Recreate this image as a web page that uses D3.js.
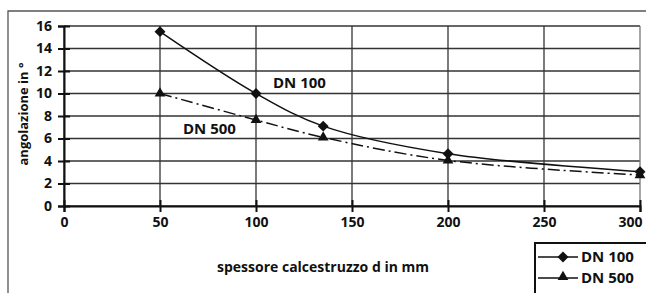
<!DOCTYPE html>
<html>
<head>
<meta charset="utf-8">
<script src="https://cdn.jsdelivr.net/npm/d3@7"></script>
<style>
  body { margin: 0; background: #fff; }
  text { font-family: "Open Sans", sans-serif; font-weight: 700; fill: #111; }
</style>
</head>
<body>
<svg id="chart" width="646" height="293"></svg>
<script>
let thickness = [50, 100, 135, 200, 300];
let dn100 = [15.5, 10, 7.1, 4.65, 3.05];
let dn500 = [10, 7.65, 6.1, 4.05, 2.75];
let xTicks = [0, 50, 100, 150, 200, 250, 300];
let yTicks = [0, 2, 4, 6, 8, 10, 12, 14, 16];
let seriesNames = ["DN 100", "DN 500"];

let svg = d3.select("#chart");
let plot = {"left": 64, "right": 640, "top": 26, "bottom": 206};

let xScale = d3.scaleLinear().domain([0, 300]).range([plot.left, plot.right]);
let yScale = d3.scaleLinear().domain([0, 16]).range([plot.bottom, plot.top]);

// outer frame (top and left)
svg.append("path")
  .attr("d", "M8,293 V11 H646")
  .style("fill", "none")
  .style("stroke", "#555")
  .style("stroke-width", 1.3);

// grid
svg.selectAll(".hgrid")
  .data(yTicks)
  .enter()
  .append("line")
    .attr("x1", plot.left).attr("x2", plot.right)
    .attr("y1", d => yScale(d)).attr("y2", d => yScale(d))
    .style("stroke", "#333")
    .style("stroke-width", 1.3);
svg.selectAll(".vgrid")
  .data(xTicks)
  .enter()
  .append("line")
    .attr("x1", d => xScale(d)).attr("x2", d => xScale(d))
    .attr("y1", plot.top).attr("y2", plot.bottom)
    .style("stroke", (d, i) => i == xTicks.length - 1 ? "#777" : "#333")
    .style("stroke-width", 1.3);

// axes
let xAxis = svg.append("g")
  .attr("transform", "translate(0," + plot.bottom + ")")
  .call(d3.axisBottom(xScale).tickValues(xTicks).tickSize(6).tickPadding(5));
xAxis.selectAll(".tick line").attr("y1", -6).style("stroke", "#111").style("stroke-width", 2);
xAxis.select(".domain").style("stroke", "#111").style("stroke-width", 2);
xAxis.selectAll("text").style("font-size", "14px").style("font-weight", 700);
// last label sits inside the right edge
xAxis.selectAll(".tick text")
  .filter(d => d == 300)
  .attr("text-anchor", "end")
  .attr("dx", 2);

let yAxis = svg.append("g")
  .attr("transform", "translate(" + plot.left + ",0)")
  .call(d3.axisLeft(yScale).tickValues(yTicks).tickSize(6).tickPadding(6));
yAxis.selectAll(".tick line").attr("x1", -6).attr("x2", 6).style("stroke", "#111").style("stroke-width", 2);
yAxis.select(".domain").style("stroke", "#111").style("stroke-width", 2);
yAxis.selectAll("text").style("font-size", "14px").style("font-weight", 700);

// axis titles
svg.append("text")
  .attr("transform", "translate(28,114) rotate(-90)")
  .attr("text-anchor", "middle")
  .style("font-size", "13px")
  .text("angolazione in °");
svg.append("text")
  .attr("x", 323)
  .attr("y", 272)
  .attr("text-anchor", "middle")
  .style("font-size", "14px")
  .text("spessore calcestruzzo d in mm");

// lines
let line = d3.line()
  .x(d => xScale(d[0]))
  .y(d => yScale(d[1]))
  .curve(d3.curveCatmullRom.alpha(0.5));

let pts100 = thickness.map((t, i) => [t, dn100[i]]);
let pts500 = thickness.map((t, i) => [t, dn500[i]]);

svg.append("path")
  .attr("d", line(pts500))
  .style("fill", "none")
  .style("stroke", "#111")
  .style("stroke-width", 1.5)
  .style("stroke-dasharray", "12,4,2,4");
svg.append("path")
  .attr("d", line(pts100))
  .style("fill", "none")
  .style("stroke", "#111")
  .style("stroke-width", 1.5);

let diamond = d3.symbol().type(d3.symbolSquare).size(60);
let triangle = d3.symbol().type(d3.symbolTriangle).size(50);

svg.selectAll(".m500")
  .data(pts500)
  .enter()
  .append("path")
    .attr("d", triangle)
    .attr("transform", d => "translate(" + xScale(d[0]) + "," + yScale(d[1]) + ")")
    .style("fill", "#111");
svg.selectAll(".m100")
  .data(pts100)
  .enter()
  .append("path")
    .attr("d", diamond)
    .attr("transform", d => "translate(" + xScale(d[0]) + "," + yScale(d[1]) + ") rotate(45)")
    .style("fill", "#111");

// in-plot labels
svg.append("text")
  .attr("x", 273).attr("y", 88)
  .style("font-size", "15px")
  .text(seriesNames[0]);
svg.append("text")
  .attr("x", 183).attr("y", 134)
  .style("font-size", "15px")
  .text(seriesNames[1]);

// legend
let legend = svg.append("g");
legend.append("rect")
  .attr("x", 535).attr("y", 243)
  .attr("width", 115).attr("height", 60)
  .style("fill", "#fff")
  .style("stroke", "#111")
  .style("stroke-width", 2);
let legY = [257, 278];
legend.selectAll(".legLine")
  .data(seriesNames)
  .enter()
  .append("line")
    .attr("x1", 538).attr("x2", 578)
    .attr("y1", (d, i) => legY[i]).attr("y2", (d, i) => legY[i])
    .style("stroke", "#111")
    .style("stroke-width", 1.5);
legend.append("path")
  .attr("d", diamond)
  .attr("transform", "translate(563," + legY[0] + ") rotate(45)")
  .style("fill", "#111");
legend.append("path")
  .attr("d", triangle)
  .attr("transform", "translate(563," + (legY[1] - 1) + ")")
  .style("fill", "#111");
legend.selectAll(".legText")
  .data(seriesNames)
  .enter()
  .append("text")
    .attr("x", 581)
    .attr("y", (d, i) => legY[i] + 5)
    .style("font-size", "15px")
    .text(d => d);
</script>
</body>
</html>
